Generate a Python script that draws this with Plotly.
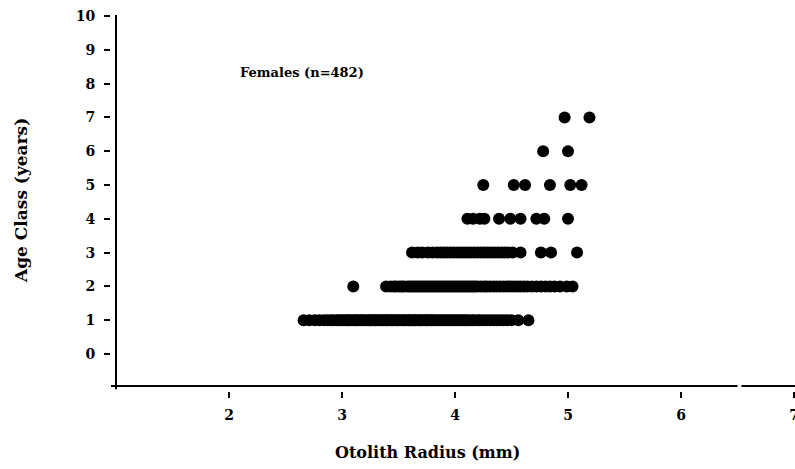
import plotly.graph_objects as go

# Otolith radius (mm) of each female, grouped by age class (years)
age1_radius = [2.66, 2.71, 2.76, 2.80, 2.84, 2.87, 2.90, 2.92, 2.95, 2.97, 2.99, 3.01,
               3.03, 3.05, 3.06, 3.08, 3.10, 3.12, 3.13, 3.15, 3.17, 3.18, 3.20, 3.22,
               3.24, 3.25, 3.27, 3.29, 3.30, 3.32, 3.34, 3.35, 3.37, 3.39, 3.40, 3.42,
               3.44, 3.45, 3.47, 3.49, 3.50, 3.52, 3.54, 3.55, 3.57, 3.59, 3.60, 3.62,
               3.64, 3.65, 3.67, 3.69, 3.70, 3.72, 3.74, 3.75, 3.77, 3.79, 3.80, 3.82,
               3.84, 3.86, 3.88, 3.90, 3.92, 3.94, 3.96, 3.98, 4.00, 4.02, 4.04, 4.06,
               4.08, 4.10, 4.12, 4.15, 4.17, 4.20, 4.22, 4.25, 4.28, 4.31, 4.34, 4.37,
               4.40, 4.43, 4.46, 4.50, 4.56, 4.65]
age2_radius = [3.10, 3.39, 3.43, 3.46, 3.48, 3.51, 3.53, 3.55, 3.58, 3.60, 3.62, 3.64,
               3.66, 3.68, 3.70, 3.72, 3.74, 3.76, 3.78, 3.80, 3.82, 3.84, 3.86, 3.88,
               3.90, 3.92, 3.94, 3.96, 3.98, 4.00, 4.02, 4.04, 4.06, 4.08, 4.10, 4.12,
               4.14, 4.16, 4.18, 4.20, 4.23, 4.26, 4.28, 4.31, 4.34, 4.37, 4.40, 4.43,
               4.46, 4.49, 4.52, 4.55, 4.58, 4.61, 4.64, 4.68, 4.72, 4.76, 4.80, 4.84,
               4.88, 4.93, 4.99, 5.04]
age3_radius = [3.62, 3.67, 3.71, 3.76, 3.80, 3.84, 3.87, 3.90, 3.93, 3.96, 3.99, 4.02,
               4.05, 4.08, 4.11, 4.14, 4.17, 4.20, 4.23, 4.26, 4.29, 4.32, 4.35, 4.38,
               4.41, 4.44, 4.47, 4.51, 4.58, 4.76, 4.85, 5.08]
age4_radius = [4.11, 4.16, 4.22, 4.26, 4.39, 4.49, 4.58, 4.72, 4.79, 5.00]
age5_radius = [4.25, 4.52, 4.62, 4.84, 5.02, 5.12]
age6_radius = [4.78, 5.00]
age7_radius = [4.97, 5.19]

age_classes = [1, 2, 3, 4, 5, 6, 7]
radius_by_age = [age1_radius, age2_radius, age3_radius, age4_radius,
                 age5_radius, age6_radius, age7_radius]

x_ticks = [2, 3, 4, 5, 6, 7]
y_ticks = [0, 1, 2, 3, 4, 5, 6, 7, 8, 9, 10]

xs, ys = [], []
for age, radii in zip(age_classes, radius_by_age):
    xs.extend(radii)
    ys.extend([age] * len(radii))

SERIF = "DejaVu Serif"

W, H = 795, 469
ML, MR, MT, MB = 111, 0, 8, 78
pw, ph = W - ML - MR, H - MT - MB


def px_to_paper(px_x, px_y):
    """Convert page pixel position (from top-left) to paper coordinates."""
    return (px_x - ML) / pw, (H - px_y - MB) / ph


fig = go.Figure()
fig.add_trace(go.Scatter(
    x=xs, y=ys, mode="markers",
    marker=dict(color="black", size=12, line=dict(width=0)),
    hoverinfo="x+y", showlegend=False,
))

# Free-floating axis lines (the x line has a small break near 6.5)
line_style = dict(color="black", width=2)
fig.add_shape(type="line", xref="x", yref="y", x0=1.0, x1=1.0, y0=-1.04, y1=10.03,
              line=line_style)
fig.add_shape(type="line", xref="x", yref="y", x0=0.93, x1=6.50, y0=-0.947, y1=-0.947,
              line=line_style)
fig.add_shape(type="line", xref="x", yref="y", x0=6.535, x1=7.02, y0=-0.947, y1=-0.947,
              line=line_style)

fig.add_annotation(x=2.08, y=8.34, xref="x", yref="y", xanchor="left", yanchor="middle",
                   text="Females (n=482)", showarrow=False,
                   font=dict(family=SERIF, size=13, color="black", weight="bold"))

tx, ty = px_to_paper(427, 452)
fig.add_annotation(x=tx, y=ty, xref="paper", yref="paper", showarrow=False,
                   xanchor="center", yanchor="middle",
                   text="Otolith Radius (mm)",
                   font=dict(family=SERIF, size=16, color="black", weight="bold"))
tx, ty = px_to_paper(21, 201)
fig.add_annotation(x=tx, y=ty, xref="paper", yref="paper", showarrow=False,
                   xanchor="center", yanchor="middle",
                   text="Age Class (years)", textangle=-90,
                   font=dict(family=SERIF, size=17, color="black", weight="bold"))

fig.update_layout(
    width=W, height=H,
    margin=dict(l=ML, r=MR, t=MT, b=MB, pad=0, autoexpand=False),
    paper_bgcolor="white", plot_bgcolor="white",
    xaxis=dict(range=[0.9558, 7.0088], tickvals=x_ticks, ticktext=[str(v) for v in x_ticks],
               ticks="outside", ticklen=6, tickwidth=2, tickcolor="black",
               showline=False, showgrid=False, zeroline=False, automargin=False,
               ticklabeloverflow="allow",
               tickfont=dict(family=SERIF, size=14, color="black", weight="bold"),
               ticklabelstandoff=5),
    yaxis=dict(range=[-1.0947, 10.237], tickvals=y_ticks, ticktext=[str(v) for v in y_ticks],
               ticks="outside", ticklen=6, tickwidth=1.5, tickcolor="black",
               showline=False, showgrid=False, zeroline=False, automargin=False,
               tickfont=dict(family=SERIF, size=14, color="black", weight="bold"),
               ticklabelstandoff=6),
)

fig.write_html("out.html")
